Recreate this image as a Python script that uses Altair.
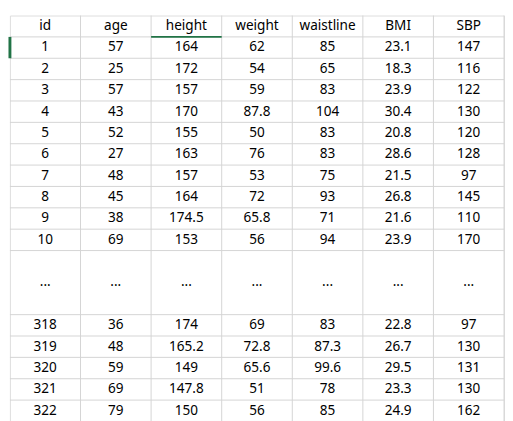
import altair as alt
import pandas as pd

columns = ["id", "age", "height", "weight", "waistline", "BMI", "SBP"]
ids = ["1", "2", "3", "4", "5", "6", "7", "8", "9", "10", "", "...", "", "318", "319", "320", "321", "322"]
age = ["57", "25", "57", "43", "52", "27", "48", "45", "38", "69", "", "...", "", "36", "48", "59", "69", "79"]
height = ["164", "172", "157", "170", "155", "163", "157", "164", "174.5", "153", "", "...", "", "174", "165.2", "149", "147.8", "150"]
weight = ["62", "54", "59", "87.8", "50", "76", "53", "72", "65.8", "56", "", "...", "", "69", "72.8", "65.6", "51", "56"]
waistline = ["85", "65", "83", "104", "83", "83", "75", "93", "71", "94", "", "...", "", "83", "87.3", "99.6", "78", "85"]
bmi = ["23.1", "18.3", "23.9", "30.4", "20.8", "28.6", "21.5", "26.8", "21.6", "23.9", "", "...", "", "22.8", "26.7", "29.5", "23.3", "24.9"]
sbp = ["147", "116", "122", "130", "120", "128", "97", "145", "110", "170", "", "...", "", "97", "130", "131", "130", "162"]

values = [ids, age, height, weight, waistline, bmi, sbp]
n_rows = len(ids) + 1

records = []
for ci, name in enumerate(columns):
    records.append({"c": ci + 0.5, "r": 0.5, "t": name})
    for ri, v in enumerate(values[ci]):
        if v:
            records.append({"c": ci + 0.5, "r": ri + 1.5, "t": v})
cells = pd.DataFrame(records)

xs = alt.Scale(domain=[0, len(columns)], nice=False, zero=False)
ys = alt.Scale(domain=[0, n_rows], nice=False, zero=False, reverse=True)

text = alt.Chart(cells).mark_text(font="Noto Sans", fontSize=14, color="black").encode(
    x=alt.X("c:Q", scale=xs, axis=None),
    y=alt.Y("r:Q", scale=ys, axis=None),
    text="t:N",
)

vlines = alt.Chart(pd.DataFrame({"v": list(range(1, len(columns) + 1))})).mark_rule(
    color="#d4d4d4", strokeWidth=1).encode(
    x=alt.X("v:Q", scale=xs, axis=None),
)
# no gridlines inside the merged gap around the "..." row
h_rows = [v for v in range(1, n_rows + 1) if v not in (12, 13)]
hlines = alt.Chart(pd.DataFrame({"v": h_rows})).mark_rule(
    color="#d4d4d4", strokeWidth=1).encode(
    y=alt.Y("v:Q", scale=ys, axis=None),
)
sel = alt.Chart(pd.DataFrame({"x": [2], "x2": [3], "y": [1]})).mark_rule(
    color="#217346", strokeWidth=2).encode(
    x=alt.X("x:Q", scale=xs, axis=None), x2="x2:Q",
    y=alt.Y("y:Q", scale=ys, axis=None),
)
side = alt.Chart(pd.DataFrame({"y": [1], "y2": [2]})).mark_rule(
    color="#217346", strokeWidth=3).encode(
    x=alt.value(0),
    y=alt.Y("y:Q", scale=ys, axis=None), y2="y2:Q",
)

chart = alt.layer(vlines, hlines, sel, side, text).properties(
    width=513, height=421,
    padding=0,
    autosize=alt.AutoSizeParams(type="fit", contains="padding"),
).configure_view(stroke=None).configure(background="white")

chart.save("out.html", embed_options={"renderer": "svg", "actions": False})
